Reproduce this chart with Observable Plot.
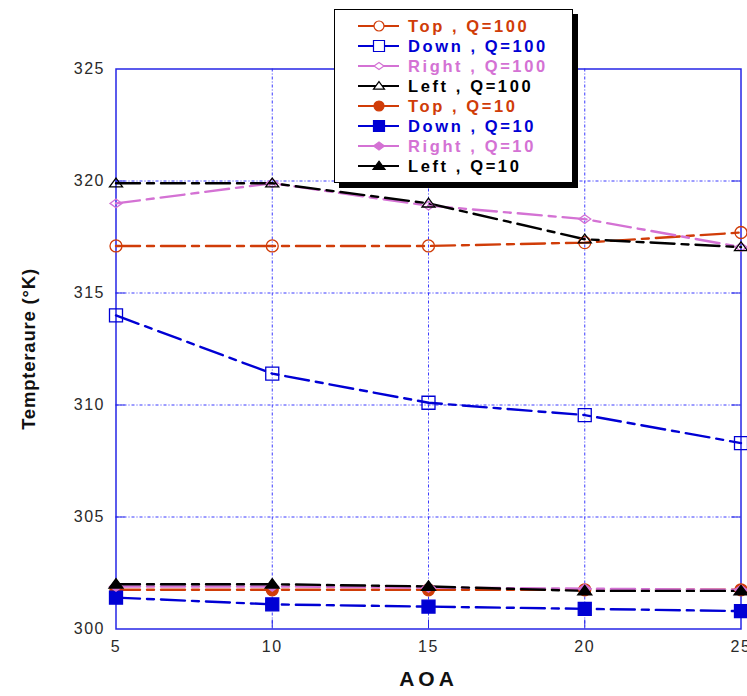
<!DOCTYPE html>
<html><head><meta charset="utf-8">
<script src="https://cdn.jsdelivr.net/npm/d3@7"></script>
<script src="https://cdn.jsdelivr.net/npm/@observablehq/plot@0.6"></script>
<style>
body{margin:0;background:#fff;font-family:"Liberation Sans",Arial,sans-serif}
#wrap{position:relative;width:747px;height:696px;overflow:hidden}
#legend{position:absolute;left:334px;top:9px;width:237px;height:172px;border:1.5px solid #000;box-shadow:5px 5px 0 #000;background:#fff}
#chart svg text{font-family:"Liberation Sans",Arial,sans-serif}
#chart g[aria-label="y-axis tick label"] text,#chart g[aria-label="x-axis tick label"] text{letter-spacing:1.5px;fill:#2a2a2a}
#chart g[aria-label="y-axis label"] text{font-weight:bold;font-size:18.5px;letter-spacing:0.8px;fill:#111}
#chart g[aria-label="x-axis label"] text{font-weight:bold;font-size:21px;letter-spacing:4px;fill:#111}
</style></head><body>
<div id="wrap"><div id="chart"></div><div id="legend"></div></div>
<script>
// ---- data ----
const aoa = [5, 10, 15, 20, 25];
const topQ100   = [317.1, 317.1, 317.1, 317.25, 317.7];
const downQ100  = [314.0, 311.4, 310.1, 309.55, 308.3];
const rightQ100 = [319.0, 319.9, 318.9, 318.3, 317.05];
const leftQ100  = [319.9, 319.9, 319.0, 317.4, 317.05];
const topQ10    = [301.75, 301.75, 301.75, 301.75, 301.75];
const downQ10   = [301.4, 301.1, 301.0, 300.9, 300.8];
const rightQ10  = [301.9, 301.9, 301.85, 301.8, 301.75];
const leftQ10   = [302.0, 302.0, 301.9, 301.7, 301.7];
const seriesNames = ["Top , Q=100","Down , Q=100","Right , Q=100","Left , Q=100","Top , Q=10","Down , Q=10","Right , Q=10","Left , Q=10"];
const xTicks = [5, 10, 15, 20, 25];
const yTicks = [300, 305, 310, 315, 320, 325];

const ORANGE = "#d03c08", BLUE = "#0000d4", PINK = "#d472d4", BLACK = "#000000";
const symbols = {
  circle: d3.symbolCircle,
  square: {draw(c, s){const h = Math.sqrt(s/Math.PI); c.rect(-h,-h,2*h,2*h);}},
  diamond: {draw(c, s){const r = Math.sqrt(s/Math.PI); c.moveTo(0,-r*0.72); c.lineTo(r,0); c.lineTo(0,r*0.72); c.lineTo(-r,0); c.closePath();}},
  triangle: {draw(c, s){const r = Math.sqrt(s/Math.PI); c.moveTo(0,-r*0.8); c.lineTo(r,r*0.55); c.lineTo(-r,r*0.55); c.closePath();}}
};
const series = [
  {name: seriesNames[0], values: topQ100,   color: ORANGE, sym: "circle",   filled: false, r: 6},
  {name: seriesNames[1], values: downQ100,  color: BLUE,   sym: "square",   filled: false, r: 6.5},
  {name: seriesNames[2], values: rightQ100, color: PINK,   sym: "diamond",  filled: false, r: 6},
  {name: seriesNames[3], values: leftQ100,  color: BLACK,  sym: "triangle", filled: false, r: 6.5},
  {name: seriesNames[4], values: topQ10,    color: ORANGE, sym: "circle",   filled: true,  r: 6},
  {name: seriesNames[5], values: downQ10,   color: BLUE,   sym: "square",   filled: true,  r: 6.5},
  {name: seriesNames[6], values: rightQ10,  color: PINK,   sym: "diamond",  filled: true,  r: 6.5},
  {name: seriesNames[7], values: leftQ10,   color: BLACK,  sym: "triangle", filled: true,  r: 7}
];

const W = 747, H = 696, mL = 115.5, mR = 6.5, mT = 68.5, mB = 67.5;
const plotW = W - mL - mR, plotH = H - mT - mB;
const AXIS = "#2626e6", GRID = "#3a3aff";

const marks = [
  Plot.gridX(xTicks.slice(1,-1), {stroke: GRID, strokeOpacity: 1, strokeDasharray: "3,2,1,2"}),
  Plot.gridY(yTicks.slice(1,-1), {stroke: GRID, strokeOpacity: 1, strokeDasharray: "3,2,1,2"}),
  Plot.tickY(yTicks.slice(1,-1), {y: d => d, stroke: AXIS, insetRight: plotW - 9}),
  Plot.tickY(yTicks.slice(1,-1), {y: d => d, stroke: AXIS, insetLeft: plotW - 9}),
  Plot.tickX(xTicks.slice(1,-1), {x: d => d, stroke: AXIS, insetTop: plotH - 9}),
  Plot.frame({stroke: AXIS, strokeWidth: 1.5}),
  Plot.axisY(yTicks, {tickSize: 0, tickPadding: 11, fontSize: 16, label: "Tempteraure (°K)", labelAnchor: "center", labelOffset: 94, labelArrow: "none"}),
  Plot.axisX(xTicks, {tickSize: 0, tickPadding: 12, fontSize: 16, label: "AOA", labelAnchor: "center", labelOffset: 57, labelArrow: "none"})
];
for (const s of series) {
  const rows = aoa.map((a, i) => ({aoa: a, temp: s.values[i]}));
  marks.push(Plot.line(rows, {x: "aoa", y: "temp", stroke: s.color, strokeWidth: 2.4, strokeDasharray: "24,7,7,7"}));
}
for (const s of series) {
  const rows = aoa.map((a, i) => ({aoa: a, temp: s.values[i]}));
  marks.push(Plot.dot(rows, {x: "aoa", y: "temp", symbol: symbols[s.sym], r: s.r,
    stroke: s.color, strokeWidth: 1.3, fill: s.filled ? s.color : "none"}));
}

const chart = Plot.plot({
  width: W, height: H,
  marginLeft: mL, marginRight: mR, marginTop: mT, marginBottom: mB,
  x: {domain: [5, 25]},
  y: {domain: [300, 325]},
  style: {background: "#fff", overflow: "visible"},
  marks
});
document.getElementById("chart").appendChild(chart);

// ---- legend ----
const lg = d3.select("#legend").append("svg").attr("width", 237).attr("height", 172);
series.forEach((s, i) => {
  const y = 16 + 20 * i;
  lg.append("line").attr("x1", 23).attr("x2", 64).attr("y1", y).attr("y2", y)
    .attr("stroke", s.color).attr("stroke-width", 1.8);
  lg.append("path").attr("transform", `translate(44,${y})`)
    .attr("d", d3.symbol(symbols[s.sym], Math.PI * (s.r - 1) * (s.r - 1))())
    .attr("stroke", s.color).attr("stroke-width", 1.2)
    .attr("fill", s.filled ? s.color : "#fff");
  lg.append("text").attr("x", 73).attr("y", y).attr("dy", "0.36em")
    .attr("fill", s.color).attr("font-weight", "bold").attr("font-size", 16.5)
    .attr("letter-spacing", "2.6px")
    .attr("font-family", "'Liberation Sans', Arial, sans-serif")
    .text(s.name);
});
</script>
</body></html>
